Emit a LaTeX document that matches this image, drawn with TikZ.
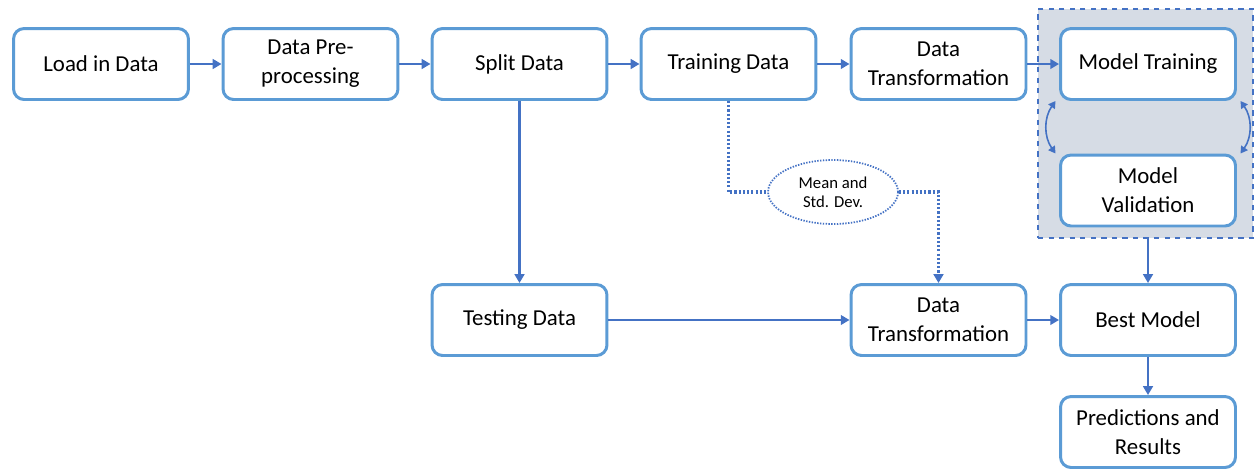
\documentclass[tikz,border=0pt]{standalone}
\usepackage{fontspec}
\setmainfont{Carlito}
\usetikzlibrary{shapes.geometric, arrows.meta, positioning}
\definecolor{boxline}{HTML}{5B9BD5}
\definecolor{arrowline}{HTML}{4472C4}
\definecolor{shade}{HTML}{D6DCE5}

\tikzset{
    box/.style={rectangle, draw=boxline, line width=1.7pt, fill=white, minimum width=3.5cm, minimum height=1.42cm, align=center, rounded corners=6pt, font=\fontsize{13}{16.5}\selectfont},
    arrow/.style={-{Triangle[length=5pt,width=5.5pt]}, line width=1.2pt, arrowline},
    dotline/.style={line width=1.9pt, arrowline, dash pattern=on 1.2pt off 1.2pt}
}

\begin{document}
\begin{tikzpicture}[x=0.02cm, y=-0.02cm]
    \useasboundingbox (0,0) rectangle (1254,468);
    % Shaded validation region
    \node (valbox) [rectangle, draw=arrowline, fill=shade, dashed, line width=0.7pt, minimum width=4.3cm, minimum height=4.58cm] at (1145.5,123.5) {};

    % Nodes
    \node (load) [box] at (101,64) {Load in Data};
    \node (prep) [box] at (310.5,64) {Data Pre-\\processing};
    \node (split) [box] at (519.5,64) {Split Data};
    \node (traindata) [box] at (728.5,64) {Training Data};
    \node (trans1) [box] at (938.5,64) {Data\\Transformation};
    \node (train) [box] at (1148,64) {Model Training};
    \node (valid) [box] at (1148,190.5) {Model\\Validation};
    \node (test) [box] at (519.5,320) {Testing Data};
    \node (trans2) [box] at (938.5,320) {Data\\Transformation};
    \node (best) [box] at (1148,320) {Best Model};
    \node (pred) [box] at (1148,432) {Predictions and\\Results};
    \node (meanstd) [ellipse, draw=arrowline, line width=1pt, dash pattern=on 0.8pt off 0.8pt, minimum width=2.6cm, minimum height=1.28cm, inner sep=1pt, align=center, font=\fontsize{9.5}{11}\selectfont] at (833,192) {Mean and\\Std. Dev.};

    % Arrows
    \draw [arrow] (load) -- (prep);
    \draw [arrow] (prep) -- (split);
    \draw [arrow] (split) -- (traindata);
    \draw [arrow] (traindata) -- (trans1);
    \draw [arrow] (trans1) -- (train);
    \draw [arrow] (split) -- (test);
    \draw [arrow] (test) -- (trans2);
    \draw [arrow] (trans2) -- (best);
    \draw [arrow] (valbox.south -| best.north) -- (best);
    \draw [arrow] (best) -- (pred);
    \draw [{Triangle[length=4pt,width=4.5pt]}-{Triangle[length=4pt,width=4.5pt]}, line width=0.9pt, arrowline] ([xshift=-2pt]train.south west) to[bend right=35] ([xshift=-2pt]valid.north west);
    \draw [{Triangle[length=4pt,width=4.5pt]}-{Triangle[length=4pt,width=4.5pt]}, line width=0.9pt, arrowline] ([xshift=2pt]train.south east) to[bend left=35] ([xshift=2pt]valid.north east);

    % Mean and std. dev. path
    \draw [dotline] (traindata.south) |- (meanstd.west);
    \draw [dotline, -{Triangle[length=5pt,width=5.5pt]}] (meanstd.east) -| (trans2.north);
\end{tikzpicture}
\end{document}
